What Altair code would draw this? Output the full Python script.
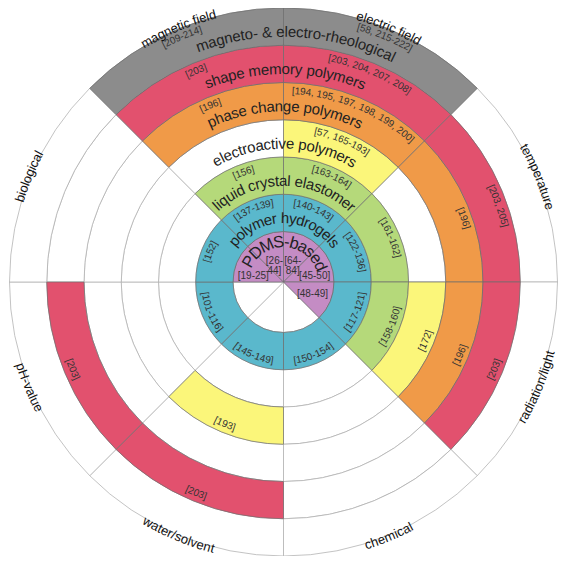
import math
import altair as alt
import pandas as pd

# ---------------- data ----------------
sectors = ["electric field", "temperature", "radiation/light", "chemical",
           "water/solvent", "pH-value", "biological", "magnetic field"]
rings = ["PDMS-based", "polymer hydrogels", "liquid crystal elastomer",
         "electroactive polymers", "phase change polymers",
         "shape memory polymers", "magneto- & electro-rheological"]
ring_colors = ["#c48cc4", "#5ab8cc", "#b5d97a", "#fbf67a", "#f09a48", "#e2516e", "#8c8c8c"]

# references per ring, in sector order (clockwise from 12 o'clock); "" = not covered
refs_pdms = ["[64-\n84]", "[45-50]", "[48-49]", "", "", "", "[19-25]", "[26-\n44]"]
refs_hydrogels = ["[140-143]", "[122-136]", "[117-121]", "[150-154]",
                  "[145-149]", "[101-116]", "[152]", "[137-139]"]
refs_lce = ["[163-164]", "[161-162]", "[158-160]", "", "", "", "", "[156]"]
refs_eap = ["[57, 165-193]", "", "[172]", "", "[193]", "", "", ""]
refs_pcp = ["[194, 195, 197, 198, 199, 200]", "[196]", "[196]", "", "", "", "", "[196]"]
refs_smp = ["[203, 204, 207, 208]", "[203, 205]", "[203]", "", "[203]", "[203]", "", "[203]"]
refs_mr = ["[58, 215-222]", "", "", "", "", "", "", "[209-214]"]
refs = [refs_pdms, refs_hydrogels, refs_lce, refs_eap, refs_pcp, refs_smp, refs_mr]

# ---------------- layout helpers ----------------
R_DOMAIN = [0, 1, 7]
R_RANGE = [0, 50.5, 274]


def rpx(u):
    if u <= 1:
        return u * R_RANGE[1]
    return R_RANGE[1] + (u - 1) * (R_RANGE[2] - R_RANGE[1]) / 6


def runits(px):
    return 1 + (px - R_RANGE[1]) * 6 / (R_RANGE[2] - R_RANGE[1])


W = {" ": 278, "&": 667, ",": 278, "-": 333, "/": 278, "[": 278, "]": 278,
     "a": 556, "b": 556, "c": 500, "d": 556, "e": 556, "f": 278, "g": 556,
     "h": 556, "i": 222, "j": 222, "k": 500, "l": 222, "m": 833, "n": 556,
     "o": 556, "p": 556, "q": 556, "r": 333, "s": 500, "t": 278, "u": 556,
     "v": 500, "w": 722, "x": 500, "y": 500, "z": 500,
     "D": 722, "H": 722, "M": 833, "P": 667, "S": 667}


def curved(text, center, r_u, size, color, flip):
    rp = rpx(r_u)
    ws = [W.get(c, 556) * size / 1000.0 for c in text]
    pos = -sum(ws) / 2
    rows = []
    for c, w in zip(text, ws):
        s = pos + w / 2
        pos += w
        if c == " ":
            continue
        d = math.degrees(s / rp)
        if flip:
            th, rot = center - d, center - d - 180
        else:
            th, rot = center + d, center + d
        rows.append(dict(ch=c, t=th % 360, r=r_u, rot=rot % 360, size=size, color=color))
    return rows


# ---------------- derived tables ----------------
cells, filled, txt = [], [], []
for ri, ring in enumerate(rings):
    r0 = 0 if ri == 0 else ri
    r1 = ri + 1
    for si, sec in enumerate(sectors):
        row = dict(ring=ring, sector=sec, t0=45 * si, t1=45 * si + 45, r0=r0, r1=r1)
        cells.append(row)
        if refs[ri][si]:
            filled.append(row)

nudge = {("liquid crystal elastomer", "electric field"): 2,
         ("liquid crystal elastomer", "magnetic field"): 2.5,
         ("phase change polymers", "temperature"): 3,
         ("shape memory polymers", "temperature"): 3}
pdms_pos = {"electric field": (23.5, 0.46), "temperature": (78.5, 0.63),
            "radiation/light": (112, 0.62), "biological": (281.6, 0.61),
            "magnetic field": (337, 0.46)}

for ri, ring in enumerate(rings):
    for si, sec in enumerate(sectors):
        lab = refs[ri][si]
        if not lab:
            continue
        if ri == 0:
            t, r = pdms_pos[sec]
            txt.append(dict(ch=lab, t=t, r=r, rot=0, size=10, color="#333333"))
        else:
            c = 45 * si + 22.5 + nudge.get((ring, sec), 0)
            txt += curved(lab, c, ri + 0.775, 10, "#333333", 90 < c < 270)

# ring names along the top
for ri, ring in enumerate(rings):
    if ri == 0:
        txt += curved(ring, 3, 0.79, 16.5, "#222222", False)
    else:
        c = 3 if ri == 6 else (1 if ri == 1 else 0.5)
        txt += curved(ring, c, ri + 0.36, 15, "#222222", False)

# sector names around the outside
for si, sec in enumerate(sectors):
    c = 45 * si + 22.5
    txt += curved(sec, c, runits(276), 13, "#111111", 90 < c < 270)

cells_df = pd.DataFrame(cells)
filled_df = pd.DataFrame(filled)
txt_df = pd.DataFrame(txt)

tscale = alt.Scale(type="linear", domain=[0, 360], range=[0, 2 * math.pi], zero=False, nice=False)
rscale = alt.Scale(type="linear", domain=R_DOMAIN, range=R_RANGE, zero=False, nice=False)

grid = alt.Chart(cells_df).mark_arc(fill="white", stroke="#b4b4b4", strokeWidth=0.8).encode(
    theta=alt.Theta("t0:Q", scale=tscale, stack=None),
    theta2="t1:Q",
    radius=alt.Radius("r0:Q", scale=rscale),
    radius2="r1:Q",
)

bands = alt.Chart(filled_df).mark_arc(stroke="#6e6e6e", strokeWidth=0.7).encode(
    theta=alt.Theta("t0:Q", scale=tscale, stack=None),
    theta2="t1:Q",
    radius=alt.Radius("r0:Q", scale=rscale),
    radius2="r1:Q",
    color=alt.Color("ring:N", scale=alt.Scale(domain=rings, range=ring_colors), legend=None),
)

labels = alt.Chart(txt_df).mark_text(
    font="Liberation Sans", align="center", baseline="middle", lineBreak="\n", lineHeight=10
).encode(
    theta=alt.Theta("t:Q", scale=tscale, stack=None),
    radius=alt.Radius("r:Q", scale=rscale),
    text="ch:N",
    angle=alt.Angle("rot:Q", scale=None),
    size=alt.Size("size:Q", scale=None),
    color=alt.Color("color:N", scale=None),
)

chart = alt.layer(grid, bands, labels).properties(
    width=551, height=548,
    autosize=alt.AutoSizeParams(type="none"),
    padding=0,
).configure_view(strokeWidth=0)

chart.save("out.html", embed_options={"renderer": "svg", "actions": False})
